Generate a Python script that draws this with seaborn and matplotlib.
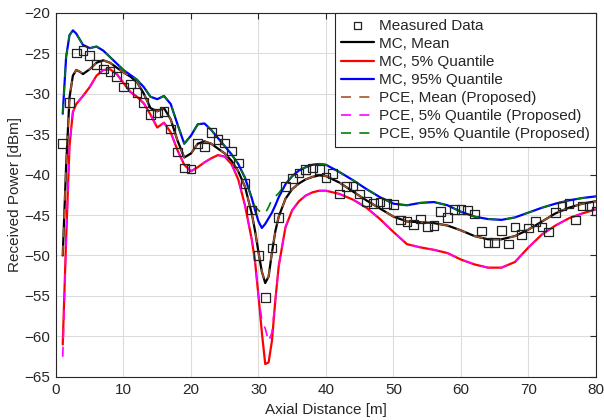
import numpy as np
import pandas as pd
import matplotlib
matplotlib.use('Agg')
import matplotlib.pyplot as plt
import seaborn as sns

# Measured data (axial distance in m, received power in dBm)
meas_x = list(range(1, 81))
meas_y = [-36.2, -31.1, -25.0, -24.7, -25.3, -26.4, -27.0, -27.3, -27.9, -29.2,
          -28.8, -29.9, -31.1, -32.6, -32.4, -32.2, -34.4, -37.2, -39.2, -39.3,
          -36.2, -36.6, -34.8, -35.7, -36.1, -37.1, -38.6, -41.1, -44.4, -50.0,
          -55.2, -49.1, -45.3, -41.5, -40.5, -39.8, -39.4, -39.2, -39.4, -40.4,
          -39.9, -42.4, -41.5, -41.4, -42.4, -43.3, -43.6, -43.4, -43.6, -43.7,
          -45.6, -45.8, -46.2, -45.5, -46.4, -46.3, -44.6, -45.3, -44.3, -44.3,
          -44.4, -44.9, -47.0, -48.4, -48.4, -46.9, -48.6, -46.5, -47.4, -46.6,
          -45.8, -46.5, -47.1, -44.7, -43.9, -43.6, -45.6, -43.9, -43.9, -44.5]

# Sample positions of the model curves
curve_x = [1, 1.5, 2, 2.5, 3, 3.5, 4, 5, 6, 7, 8, 9, 10, 11, 12, 13, 14, 15, 16,
           17, 18, 19, 20, 21, 22, 23, 24, 25, 26, 27, 28, 29, 29.5, 30, 30.5,
           31, 31.5, 32, 32.5, 33, 34, 35, 36, 37, 38, 39, 40, 42, 44, 46, 48,
           50, 52, 54, 56, 58, 60, 62, 64, 66, 68, 70, 72, 74, 76, 78, 80]

mc_mean = [-50.0, -39.0, -30.5, -27.8, -27.1, -27.3, -27.6, -27.0, -26.2, -25.9,
           -26.2, -26.8, -27.4, -27.9, -28.6, -30.0, -31.8, -32.2, -31.8, -33.2,
           -35.8, -37.9, -37.4, -36.2, -35.9, -36.2, -36.8, -37.4, -38.3, -39.6,
           -41.5, -44.8, -47.0, -49.6, -52.0, -53.4, -52.6, -49.6, -47.0, -45.2,
           -43.0, -41.8, -41.1, -40.6, -40.3, -40.1, -40.2, -41.0, -42.1, -43.2,
           -44.2, -45.2, -45.8, -45.9, -46.0, -46.3, -46.9, -47.6, -48.0, -48.0,
           -47.6, -46.8, -45.8, -44.8, -44.1, -43.6, -43.3]

mc_q05 = [-61.0, -48.0, -36.5, -32.3, -31.3, -30.8, -30.3, -29.2, -27.8, -27.1,
          -27.0, -27.6, -28.7, -29.8, -30.4, -31.2, -32.6, -34.2, -33.6, -34.8,
          -37.0, -38.8, -39.6, -39.1, -38.5, -38.0, -37.6, -37.8, -38.7, -40.6,
          -43.8, -48.0, -50.8, -55.0, -59.5, -63.4, -63.2, -60.5, -55.5, -51.3,
          -46.5, -44.4, -43.3, -42.6, -42.2, -42.0, -42.0, -42.4, -43.1, -44.1,
          -45.5, -47.1, -48.6, -49.0, -49.3, -49.7, -50.5, -51.1, -51.5, -51.5,
          -50.8, -49.0, -47.4, -46.3, -45.4, -44.8, -44.3]

mc_q95 = [-32.5, -25.5, -22.8, -22.2, -22.6, -23.3, -24.0, -24.4, -24.2, -24.7,
          -25.5, -26.3, -27.1, -27.7, -28.3, -29.2, -30.4, -30.7, -30.3, -31.3,
          -33.8, -36.2, -35.2, -33.8, -33.7, -34.5, -35.5, -36.5, -37.5, -38.7,
          -40.4, -42.9, -44.4, -45.8, -46.6, -46.1, -45.4, -44.7, -43.8, -42.8,
          -41.2, -40.2, -39.5, -39.1, -38.8, -38.7, -38.8, -39.7, -40.7, -41.8,
          -42.8, -43.6, -43.8, -43.5, -43.4, -43.8, -44.6, -45.2, -45.5, -45.6,
          -45.3, -44.7, -44.1, -43.6, -43.2, -42.9, -42.7]

pce_mean = [-50.0, -39.0, -30.5, -27.8, -27.1, -27.3, -27.6, -27.0, -26.2, -25.9,
            -26.2, -26.8, -27.4, -27.9, -28.6, -30.0, -31.8, -32.2, -31.8, -33.2,
            -35.8, -37.9, -37.4, -36.2, -35.9, -36.2, -36.8, -37.4, -38.3, -39.6,
            -41.5, -44.8, -47.0, -49.6, -52.0, -53.3, -52.6, -49.6, -47.0, -45.2,
            -43.0, -41.8, -41.1, -40.6, -40.3, -40.1, -40.2, -41.0, -42.1, -43.2,
            -44.2, -45.2, -45.8, -45.9, -46.0, -46.3, -46.9, -47.6, -48.0, -48.0,
            -47.6, -46.8, -45.8, -44.8, -44.1, -43.6, -43.3]

pce_q05 = [-62.5, -48.5, -36.5, -32.3, -31.3, -30.8, -30.3, -29.2, -27.8, -27.1,
           -27.0, -27.6, -28.7, -29.8, -30.4, -31.2, -32.6, -34.2, -33.6, -34.8,
           -37.0, -38.8, -39.6, -39.1, -38.5, -38.0, -37.6, -37.8, -38.7, -40.6,
           -43.8, -48.0, -50.8, -55.0, -58.0, -59.0, -60.6, -59.5, -55.5, -51.3,
           -46.5, -44.4, -43.3, -42.6, -42.2, -42.0, -42.0, -42.4, -43.1, -44.1,
           -45.5, -47.1, -48.6, -49.0, -49.3, -49.7, -50.5, -51.1, -51.5, -51.5,
           -50.8, -49.0, -47.4, -46.3, -45.4, -44.8, -44.3]

pce_q95 = [-32.5, -25.5, -22.8, -22.2, -22.6, -23.3, -24.0, -24.4, -24.2, -24.7,
           -25.5, -26.3, -27.1, -27.7, -28.3, -29.2, -30.4, -30.7, -30.3, -31.3,
           -33.8, -36.2, -35.2, -33.8, -33.7, -34.5, -35.5, -36.5, -37.5, -38.7,
           -40.4, -42.9, -44.0, -44.4, -44.8, -44.8, -44.0, -43.1, -42.7, -42.3,
           -41.2, -40.2, -39.5, -39.1, -38.8, -38.7, -38.8, -39.7, -40.7, -41.8,
           -42.8, -43.6, -43.8, -43.5, -43.4, -43.8, -44.6, -45.2, -45.5, -45.6,
           -45.3, -44.7, -44.1, -43.6, -43.2, -42.9, -42.7]

sns.set_theme(style='white')
plt.rcParams['font.family'] = ['Liberation Sans', 'DejaVu Sans']

fig = plt.figure(figsize=(6.04, 4.2), dpi=100)
ax = fig.add_axes([0.0927, 0.1024, 0.894, 0.8678])

curves = pd.DataFrame({'x': curve_x, 'mc_mean': mc_mean, 'mc_q05': mc_q05,
                       'mc_q95': mc_q95, 'pce_mean': pce_mean,
                       'pce_q05': pce_q05, 'pce_q95': pce_q95})

# MC curves (solid)
sns.lineplot(data=curves, x='x', y='mc_mean', ax=ax, color='black', lw=1.6, label='MC, Mean')
sns.lineplot(data=curves, x='x', y='mc_q05', ax=ax, color='#ff0000', lw=1.6, label='MC, 5% Quantile')
sns.lineplot(data=curves, x='x', y='mc_q95', ax=ax, color='#0000ff', lw=1.6, label='MC, 95% Quantile')
# PCE curves (dashed)
sns.lineplot(data=curves, x='x', y='pce_mean', ax=ax, color='#a5532a', lw=1.2,
             linestyle=(0, (6, 5)), label='PCE, Mean (Proposed)')
sns.lineplot(data=curves, x='x', y='pce_q05', ax=ax, color='#ff00ff', lw=1.2,
             linestyle=(0, (6, 5)), label='PCE, 5% Quantile (Proposed)')
sns.lineplot(data=curves, x='x', y='pce_q95', ax=ax, color='#008000', lw=1.2,
             linestyle=(0, (6, 5)), label='PCE, 95% Quantile (Proposed)')

sns.scatterplot(x=meas_x, y=meas_y, ax=ax, marker='s', s=38, facecolor='none',
                edgecolor='#222222', linewidth=0.9, label='Measured Data', zorder=5)

ax.set_xlim(0, 80)
ax.set_ylim(-65, -20)
ax.set_xticks(np.arange(0, 81, 10))
ax.set_yticks(np.arange(-65, -19, 5))
ax.grid(True, color='#dcdcdc', lw=0.8)
ax.tick_params(direction='in', top=True, right=True, length=4, width=0.8,
               labelsize=11, colors='#262626', pad=4)
for sp in ax.spines.values():
    sp.set_color('#262626')
    sp.set_linewidth(0.8)
ax.set_xlabel('Axial Distance [m]', fontsize=11, color='#262626', labelpad=5)
ax.set_ylabel('Received Power [dBm]', fontsize=11, color='#262626', labelpad=2)

handles, labels = ax.get_legend_handles_labels()
order = [labels.index('Measured Data')] + [i for i, l in enumerate(labels) if l != 'Measured Data']
leg = ax.legend([handles[i] for i in order], [labels[i] for i in order],
                loc='upper right', bbox_to_anchor=(1, 1), borderaxespad=0,
                fancybox=False, framealpha=1, edgecolor='#262626', fontsize=11,
                handlelength=2.2, handletextpad=0.3, labelspacing=0.27,
                borderpad=0.4, markerscale=0.75)
leg.get_frame().set_linewidth(0.8)

fig.savefig('out.png', dpi=100)
